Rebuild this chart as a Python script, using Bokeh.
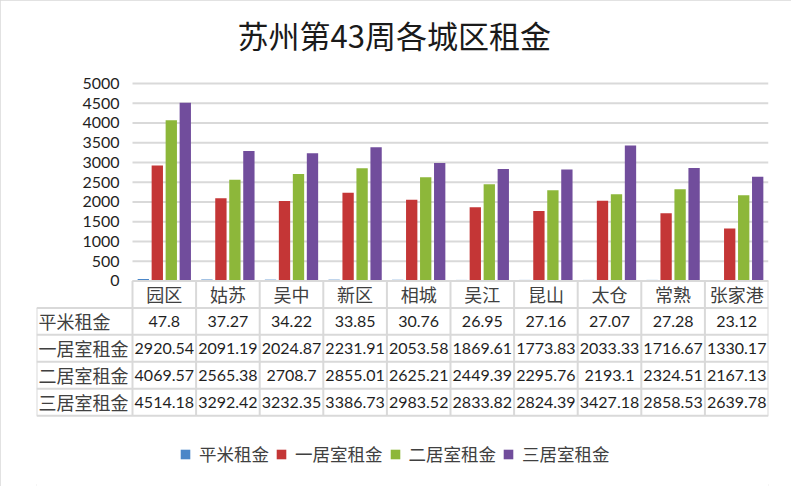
from bokeh.plotting import figure
from bokeh.models import Range1d, FixedTicker, Legend, LegendItem, ColumnDataSource
from bokeh.transform import dodge
from bokeh.core.properties import value
from bokeh.embed import file_html
from bokeh.resources import INLINE

# ---------------- data ----------------
title_text = "苏州第43周各城区租金"
categories = ["园区", "姑苏", "吴中", "新区", "相城", "吴江", "昆山", "太仓", "常熟", "张家港"]
series_names = ["平米租金", "一居室租金", "二居室租金", "三居室租金"]
per_sqm = [47.8, 37.27, 34.22, 33.85, 30.76, 26.95, 27.16, 27.07, 27.28, 23.12]
one_bed = [2920.54, 2091.19, 2024.87, 2231.91, 2053.58, 1869.61, 1773.83, 2033.33, 1716.67, 1330.17]
two_bed = [4069.57, 2565.38, 2708.7, 2855.01, 2625.21, 2449.39, 2295.76, 2193.1, 2324.51, 2167.13]
three_bed = [4514.18, 3292.42, 3232.35, 3386.73, 2983.52, 2833.82, 2824.39, 3427.18, 2858.53, 2639.78]
y_ticks = [0, 500, 1000, 1500, 2000, 2500, 3000, 3500, 4000, 4500, 5000]

# ---------------- style / layout ----------------
colors = ["#4A86C8", "#C43636", "#8DB73A", "#714D9C"]
grid_color = "#D9D9D9"
cjk = "Noto Sans CJK SC"
num_font = "Lato"
W, H = 791, 486
frame_left, frame_right, frame_top, frame_bottom = 36, 768, 64, 486
cat_w = 63.6                      # px per category column
zero_px, top_px = 280, 82         # screen y of value 0 and of value 5000
row_px = 27.0                     # table row height
n = len(categories)
hdr = (132 - frame_left) / cat_w  # header column width in category units

k = (zero_px - top_px) / 5000.0
y_start = -(frame_bottom - zero_px) / k
y_end = (zero_px - frame_top) / k
t_start = (frame_bottom - zero_px) / row_px
t_end = -(zero_px - frame_top) / row_px

series = [per_sqm, one_bed, two_bed, three_bed]
src = ColumnDataSource(dict(xc=[i + 0.5 for i in range(n)], cat=categories,
                            s0=per_sqm, s1=one_bed, s2=two_bed, s3=three_bed))

p = figure(width=W, height=H,
           x_range=Range1d(-hdr, n), y_range=Range1d(y_start, y_end),
           x_axis_location=None, y_axis_location="left",
           output_backend="svg", toolbar_location=None,
           min_border_left=frame_left, min_border_right=W - frame_right,
           min_border_top=frame_top, min_border_bottom=H - frame_bottom,
           title=title_text)
p.extra_y_ranges = {"tbl": Range1d(t_start, t_end)}
p.outline_line_color = None
p.grid.visible = False
p.styles = {"outline": "2px solid #D9D9D9", "outline-offset": "-2px"}

p.title.text_font = cjk
p.title.text_font_size = "31px"
p.title.text_font_style = "normal"
p.title.text_color = "#1a1a1a"
p.title.text_line_height = 1.0
p.title.align = "left"
p.title.offset = 201
p.title.standoff = 18

ax = p.yaxis[0]
ax.ticker = FixedTicker(ticks=y_ticks)
ax.axis_line_color = None
ax.major_tick_line_color = None
ax.minor_tick_line_color = None
ax.major_tick_out = 0
ax.major_tick_in = 0
ax.major_label_standoff = -(132 - 13 - frame_left)
ax.major_label_text_font = num_font
ax.major_label_text_font_size = "16px"
ax.major_label_text_color = "#1f1f1f"

# horizontal value grid over the category area
p.segment(x0=[0] * len(y_ticks), x1=[n] * len(y_ticks), y0=y_ticks, y1=y_ticks,
          line_color=grid_color, line_width=2)

# bars
offsets = [-0.33, -0.11, 0.11, 0.33]
bars = []
for s in range(4):
    r = p.vbar(x=dodge("xc", offsets[s]), top="s%d" % s, width=0.178,
               source=src, fill_color=colors[s], line_color=None)
    bars.append(r)

# ---------------- data table ----------------
nrows = len(series) + 1
hx0, hx1, hy = [], [], []
for r in range(nrows + 1):
    hx0.append(0 if r == 0 else -hdr)
    hx1.append(n)
    hy.append(r)
p.segment(x0=hx0, x1=hx1, y0=hy, y1=hy, line_color=grid_color, line_width=2, y_range_name="tbl")
vx, vy0, vy1 = [-hdr], [1], [nrows]
for i in range(n + 1):
    vx.append(i)
    vy0.append(0)
    vy1.append(nrows)
p.segment(x0=vx, x1=vx, y0=vy0, y1=vy1, line_color=grid_color, line_width=2, y_range_name="tbl")

p.text(x=[i + 0.5 for i in range(n)], y=[0.5] * n, text=categories, y_range_name="tbl",
       text_font=value(cjk), text_font_size="18px",
       text_align="center", text_baseline="middle", text_color="#404040")
p.text(x=[-hdr] * len(series_names), y=[r + 1.5 for r in range(len(series_names))],
       text=series_names, y_range_name="tbl", text_font=value(cjk), text_font_size="18px",
       x_offset=2, text_align="left", text_baseline="middle", text_color="#404040")
tx, ty, tt = [], [], []
for r, s in enumerate(series):
    for i, v in enumerate(s):
        tx.append(i + 0.5)
        ty.append(r + 1.5)
        tt.append(str(v))
p.text(x=tx, y=ty, text=tt, y_range_name="tbl", text_font=value(num_font), text_font_size="16px",
       text_align="center", text_baseline="middle", text_color="#1f1f1f")

# ---------------- legend ----------------
items = [LegendItem(label=name, renderers=[bars[s]]) for s, name in enumerate(series_names)]
legend = Legend(items=items, orientation="horizontal", location=(143, 20),
                glyph_width=12, glyph_height=12, label_standoff=8, spacing=6,
                padding=0, margin=0, border_line_color=None, background_fill_alpha=0,
                label_text_font=cjk, label_text_font_size="17.5px", label_text_color="#404040")
p.add_layout(legend)

open("out.html", "w").write(file_html(p, INLINE))
